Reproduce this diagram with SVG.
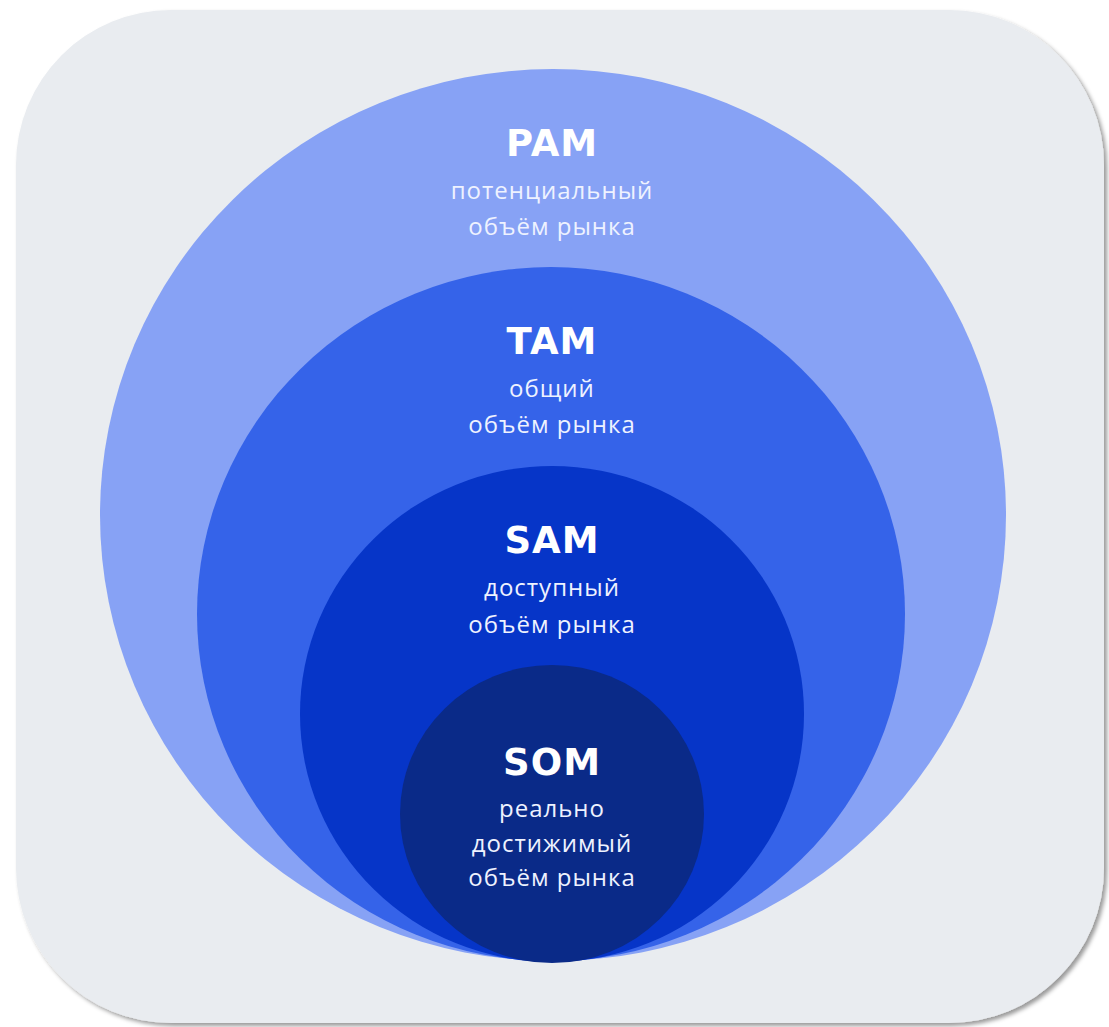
<svg xmlns="http://www.w3.org/2000/svg" width="1109" height="1027" viewBox="0 0 1109 1027">
  <defs>
    <filter id="sh" x="-5%" y="-5%" width="110%" height="110%">
      <feDropShadow dx="3" dy="3" stdDeviation="2" flood-color="#000" flood-opacity="0.4"/>
    </filter>
    <style>
      .t{font-family:"DejaVu Sans","Noto Sans",sans-serif;font-weight:700;font-size:37px;fill:#fff;text-anchor:middle;letter-spacing:1px}
      .s{font-family:"Open Sans","Noto Sans","DejaVu Sans",sans-serif;font-size:24px;fill:#eef2ff;text-anchor:middle;letter-spacing:1px}
    </style>
  </defs>
  <rect width="1109" height="1027" fill="#fff"/>
  <rect x="16" y="10" width="1088" height="1013" rx="155" ry="155" fill="#e9ecf0" filter="url(#sh)"/>
  <g id="pam">
    <ellipse cx="553" cy="515" rx="453" ry="446" fill="#87a2f5"/>
    <text class="t" x="552" y="156">PAM</text>
    <text class="s" x="552" y="199">потенциальный</text>
    <text class="s" x="552" y="235">объём рынка</text>
  </g>
  <g id="tam">
    <ellipse cx="551" cy="614" rx="354" ry="347" fill="#3563e9"/>
    <text class="t" x="552" y="354">TAM</text>
    <text class="s" x="552" y="397">общий</text>
    <text class="s" x="552" y="433">объём рынка</text>
  </g>
  <g id="sam">
    <ellipse cx="552" cy="714" rx="252" ry="248" fill="#0635c8"/>
    <text class="t" x="552" y="553">SAM</text>
    <text class="s" x="552" y="596">доступный</text>
    <text class="s" x="552" y="633">объём рынка</text>
  </g>
  <g id="som">
    <ellipse cx="552" cy="814" rx="152" ry="149" fill="#0a2a88"/>
    <text class="t" x="552" y="775">SOM</text>
    <text class="s" x="552" y="817">реально</text>
    <text class="s" x="552" y="852">достижимый</text>
    <text class="s" x="552" y="886">объём рынка</text>
  </g>
  <g id="connectors"/>
</svg>
